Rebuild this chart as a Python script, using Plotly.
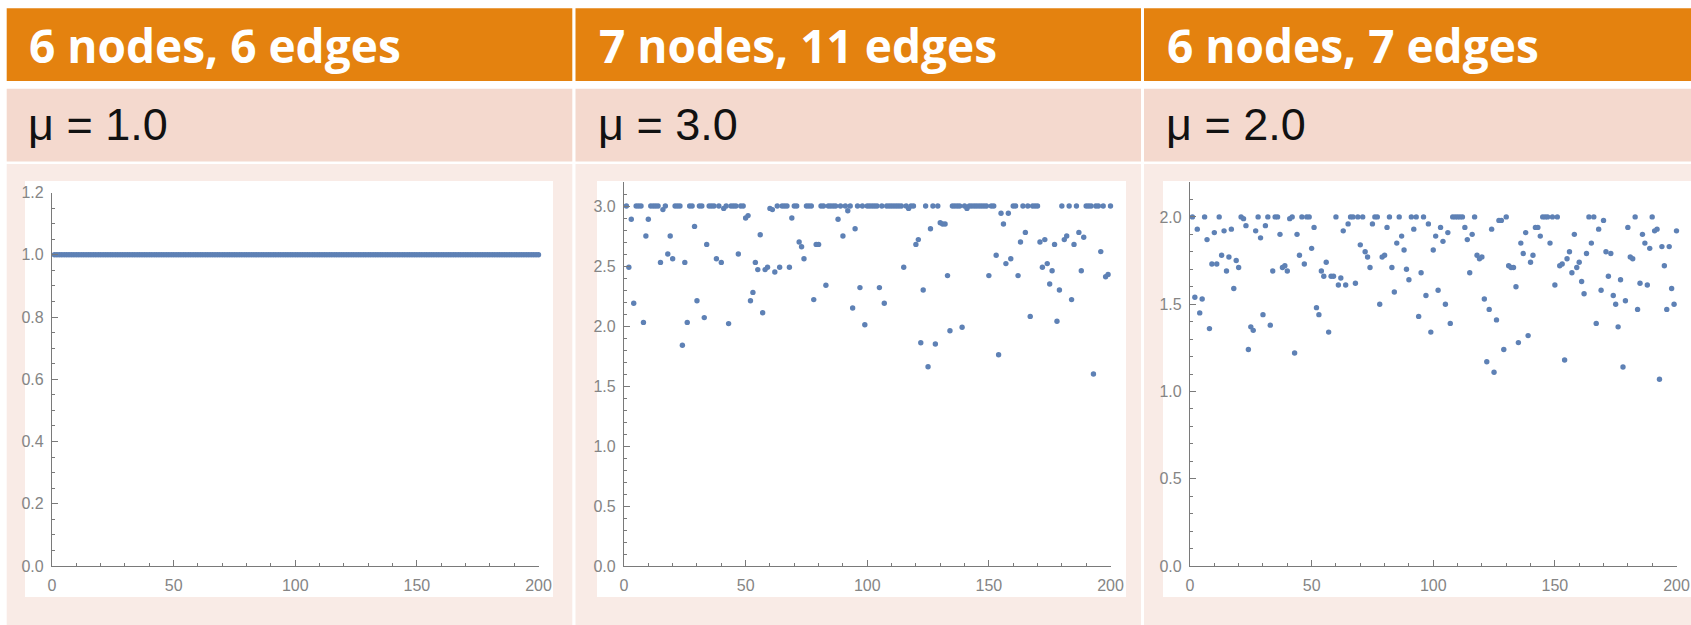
import plotly.graph_objects as go

W, H = 1691, 625

# ---------------- data ----------------
titles = ["6 nodes, 6 edges", "7 nodes, 11 edges", "6 nodes, 7 edges"]
mu_labels = ["μ = 1.0", "μ = 3.0", "μ = 2.0"]

x_vals = list(range(1, 201))

panel1_y = [
    1.0, 1.0, 1.0, 1.0, 1.0, 1.0, 1.0, 1.0, 1.0, 1.0, 1.0, 1.0, 1.0, 1.0, 1.0, 1.0, 1.0, 1.0, 1.0, 1.0,
    1.0, 1.0, 1.0, 1.0, 1.0, 1.0, 1.0, 1.0, 1.0, 1.0, 1.0, 1.0, 1.0, 1.0, 1.0, 1.0, 1.0, 1.0, 1.0, 1.0,
    1.0, 1.0, 1.0, 1.0, 1.0, 1.0, 1.0, 1.0, 1.0, 1.0, 1.0, 1.0, 1.0, 1.0, 1.0, 1.0, 1.0, 1.0, 1.0, 1.0,
    1.0, 1.0, 1.0, 1.0, 1.0, 1.0, 1.0, 1.0, 1.0, 1.0, 1.0, 1.0, 1.0, 1.0, 1.0, 1.0, 1.0, 1.0, 1.0, 1.0,
    1.0, 1.0, 1.0, 1.0, 1.0, 1.0, 1.0, 1.0, 1.0, 1.0, 1.0, 1.0, 1.0, 1.0, 1.0, 1.0, 1.0, 1.0, 1.0, 1.0,
    1.0, 1.0, 1.0, 1.0, 1.0, 1.0, 1.0, 1.0, 1.0, 1.0, 1.0, 1.0, 1.0, 1.0, 1.0, 1.0, 1.0, 1.0, 1.0, 1.0,
    1.0, 1.0, 1.0, 1.0, 1.0, 1.0, 1.0, 1.0, 1.0, 1.0, 1.0, 1.0, 1.0, 1.0, 1.0, 1.0, 1.0, 1.0, 1.0, 1.0,
    1.0, 1.0, 1.0, 1.0, 1.0, 1.0, 1.0, 1.0, 1.0, 1.0, 1.0, 1.0, 1.0, 1.0, 1.0, 1.0, 1.0, 1.0, 1.0, 1.0,
    1.0, 1.0, 1.0, 1.0, 1.0, 1.0, 1.0, 1.0, 1.0, 1.0, 1.0, 1.0, 1.0, 1.0, 1.0, 1.0, 1.0, 1.0, 1.0, 1.0,
    1.0, 1.0, 1.0, 1.0, 1.0, 1.0, 1.0, 1.0, 1.0, 1.0, 1.0, 1.0, 1.0, 1.0, 1.0, 1.0, 1.0, 1.0, 1.0, 1.0,
]

panel2_y = [
    3.0, 2.49, 2.89, 2.19, 3.0, 3.0, 3.0, 2.03, 2.75, 2.89,
    3.0, 3.0, 3.0, 3.0, 2.53, 2.97, 3.0, 2.60, 2.75, 2.56,
    3.0, 3.0, 3.0, 1.84, 2.53, 2.03, 3.0, 3.0, 2.83, 2.21,
    3.0, 3.0, 2.07, 2.68, 3.0, 3.0, 3.0, 2.56, 3.0, 2.53,
    2.98, 3.0, 2.02, 3.0, 3.0, 3.0, 2.60, 3.0, 3.0, 2.90,
    2.92, 2.21, 2.28, 2.53, 2.47, 2.76, 2.11, 2.47, 2.49, 2.98,
    2.97, 2.45, 3.0, 2.49, 3.0, 3.0, 3.0, 2.49, 2.90, 3.0,
    3.0, 2.70, 2.66, 2.56, 3.0, 3.0, 3.0, 2.22, 2.68, 2.68,
    3.0, 3.0, 2.34, 3.0, 3.0, 3.0, 3.0, 2.89, 3.0, 2.75,
    3.0, 2.96, 3.0, 2.15, 2.81, 3.0, 2.32, 3.0, 2.01, 3.0,
    3.0, 3.0, 3.0, 3.0, 2.32, 3.0, 2.19, 3.0, 3.0, 3.0,
    3.0, 3.0, 3.0, 3.0, 2.49, 3.0, 2.98, 3.0, 3.0, 2.68,
    2.72, 1.86, 2.30, 3.0, 1.66, 2.81, 3.0, 1.85, 3.0, 2.86,
    2.85, 2.85, 2.42, 1.96, 3.0, 3.0, 3.0, 3.0, 1.99, 3.0,
    2.98, 3.0, 3.0, 3.0, 3.0, 3.0, 3.0, 3.0, 3.0, 2.42,
    3.0, 3.0, 2.59, 1.76, 2.94, 2.85, 2.52, 2.94, 2.56, 3.0,
    3.0, 2.42, 2.70, 3.0, 2.78, 3.0, 2.08, 3.0, 3.0, 3.0,
    2.70, 2.49, 2.72, 2.52, 2.35, 2.46, 2.68, 2.04, 2.30, 3.0,
    2.72, 2.75, 3.0, 2.22, 2.68, 3.0, 2.78, 2.46, 2.74, 3.0,
    3.0, 3.0, 1.60, 3.0, 3.0, 2.62, 3.0, 2.41, 2.43, 3.0,
]

panel3_y = [
    2.0, 1.54, 1.93, 1.45, 1.53, 2.0, 1.87, 1.36, 1.73, 1.91,
    1.73, 2.0, 1.78, 1.92, 1.69, 1.77, 1.93, 1.59, 1.75, 1.71,
    2.0, 1.99, 1.95, 1.24, 1.37, 1.35, 1.92, 2.0, 1.88, 1.44,
    1.95, 2.0, 1.38, 1.69, 2.0, 2.0, 1.90, 1.71, 1.72, 1.69,
    1.99, 2.0, 1.22, 1.90, 1.78, 2.0, 1.73, 2.0, 2.0, 1.82,
    1.94, 1.48, 1.44, 1.69, 1.66, 1.74, 1.34, 1.66, 1.66, 2.0,
    1.61, 1.65, 1.92, 1.61, 1.96, 2.0, 2.0, 1.62, 2.0, 1.84,
    2.0, 1.80, 1.77, 1.71, 1.96, 2.0, 2.0, 1.50, 1.77, 1.78,
    1.94, 2.0, 1.71, 1.57, 1.85, 2.0, 1.89, 1.81, 1.70, 1.64,
    2.0, 1.93, 2.0, 1.43, 1.68, 2.0, 1.55, 1.96, 1.34, 1.81,
    1.89, 1.58, 1.94, 1.86, 1.50, 1.91, 1.39, 2.0, 2.0, 2.0,
    2.0, 2.0, 1.94, 1.87, 1.68, 1.90, 2.0, 1.78, 1.76, 1.77,
    1.53, 1.17, 1.47, 1.93, 1.11, 1.41, 1.98, 1.98, 1.24, 2.0,
    1.72, 1.71, 1.71, 1.60, 1.28, 1.85, 1.79, 1.91, 1.32, 1.74,
    1.78, 1.94, 1.94, 1.89, 2.0, 2.0, 2.0, 1.85, 2.0, 1.61,
    2.0, 1.72, 1.73, 1.18, 1.76, 1.80, 1.68, 1.90, 1.71, 1.74,
    1.63, 1.56, 1.79, 2.0, 1.85, 2.0, 1.39, 1.93, 1.58, 1.98,
    1.80, 1.66, 1.79, 1.55, 1.50, 1.37, 1.64, 1.14, 1.52, 1.94,
    1.77, 1.76, 2.0, 1.47, 1.62, 1.90, 1.85, 1.61, 1.82, 2.0,
    1.92, 1.93, 1.07, 1.83, 1.72, 1.47, 1.83, 1.59, 1.50, 1.92,
]

x_tick_vals = [0, 50, 100, 150, 200]
y_ranges = [[0, 1.2], [0, 3.2], [0, 2.2]]
y_major = [0.2, 0.5, 0.5]
y_minor = [0.05, 0.1, 0.1]

series = [panel1_y, panel2_y, panel3_y]

# ---------------- styling / geometry (page pixels) ----------------
ORANGE = "#E4820F"
ROW2 = "#F4D9CE"
ROW3 = "#F9EBE6"
DOT = "#5E81B5"
AXIS = "#7a7a7a"
LABEL = "#858585"

col_x = [(6.7, 572.3), (575.5, 1141.0), (1144.0, 1691.0)]
box_x = [(25, 553), (597, 1126), (1163, 1691)]
axis_x = [(52, 538.5), (624, 1110.5), (1190, 1676.5)]
axis_top = [192.5, 182, 182]
axis_bottom = 566
text_x = [27, 596.5, 1165]


def px(x):
    return x / W


def py(y):
    return 1 - y / H


fig = go.Figure()
shapes = []
annotations = []

for k in range(3):
    x0, x1 = col_x[k]
    shapes.append(dict(type="rect", xref="paper", yref="paper", x0=px(x0), x1=px(x1),
                       y0=py(81), y1=py(8.3), fillcolor=ORANGE, line=dict(width=0), layer="below"))
    shapes.append(dict(type="rect", xref="paper", yref="paper", x0=px(x0), x1=px(x1),
                       y0=py(161.5), y1=py(88.7), fillcolor=ROW2, line=dict(width=0), layer="below"))
    shapes.append(dict(type="rect", xref="paper", yref="paper", x0=px(x0), x1=px(x1),
                       y0=py(625), y1=py(164), fillcolor=ROW3, line=dict(width=0), layer="below"))
    bx0, bx1 = box_x[k]
    shapes.append(dict(type="rect", xref="paper", yref="paper", x0=px(bx0), x1=px(bx1),
                       y0=py(597), y1=py(181), fillcolor="white", line=dict(width=0), layer="below"))

    annotations.append(dict(text=titles[k], xref="paper", yref="paper", x=px(text_x[k]), y=py(45),
                            xanchor="left", yanchor="middle", showarrow=False,
                            font=dict(family="Open Sans", size=46, color="white", weight="bold")))
    annotations.append(dict(text=mu_labels[k], xref="paper", yref="paper", x=px(text_x[k] - 1), y=py(124),
                            xanchor="left", yanchor="middle", showarrow=False,
                            font=dict(family="Liberation Sans, Arial", size=45, color="#111111")))

    xa = "x" if k == 0 else f"x{k+1}"
    ya = "y" if k == 0 else f"y{k+1}"
    fig.add_trace(go.Scatter(x=x_vals, y=series[k], mode="markers", xaxis=xa, yaxis=ya,
                             marker=dict(color=DOT, size=5.4, line=dict(width=0)),
                             showlegend=False, hoverinfo="x+y", cliponaxis=False))

    ax0, ax1 = axis_x[k]
    xkey = "xaxis" if k == 0 else f"xaxis{k+1}"
    ykey = "yaxis" if k == 0 else f"yaxis{k+1}"
    fig.update_layout(**{
        xkey: dict(domain=[px(ax0), px(ax1)], range=[0, 200], anchor=ya, automargin=False,
                   showline=True, linecolor=AXIS, linewidth=1.3, mirror=False,
                   showgrid=False, zeroline=False,
                   tickmode="array", tickvals=x_tick_vals,
                   ticks="inside", ticklen=6, tickwidth=1.2, tickcolor=AXIS,
                   minor=dict(ticks="inside", ticklen=3, dtick=10, tick0=0, tickcolor=AXIS, tickwidth=1, showgrid=False),
                   tickfont=dict(family="Liberation Sans, Arial", size=16, color=LABEL),
                   ticklabelstandoff=5, ticklabeloverflow="allow", fixedrange=True),
        ykey: dict(domain=[py(axis_bottom), py(axis_top[k])], range=y_ranges[k], anchor=xa, automargin=False,
                   showline=True, linecolor=AXIS, linewidth=1.3, mirror=False,
                   showgrid=False, zeroline=False,
                   tick0=0, dtick=y_major[k], tickformat=".1f",
                   ticks="inside", ticklen=6, tickwidth=1.2, tickcolor=AXIS,
                   minor=dict(ticks="inside", ticklen=3, dtick=y_minor[k], tick0=0, tickcolor=AXIS, tickwidth=1, showgrid=False),
                   tickfont=dict(family="Liberation Sans, Arial", size=16, color=LABEL),
                   ticklabelstandoff=4, ticklabeloverflow="allow", fixedrange=True),
    })

fig.update_layout(
    width=W, height=H,
    margin=dict(l=0, r=0, t=0, b=0, pad=0, autoexpand=False),
    paper_bgcolor="white",
    plot_bgcolor="rgba(0,0,0,0)",
    shapes=shapes,
    annotations=annotations,
    showlegend=False,
)

# remove the browser's default page margin so the figure sits at the page origin
fig.write_html("out.html", config={"displayModeBar": False},
               post_script="document.body.style.margin='0';document.body.style.overflow='hidden';")
